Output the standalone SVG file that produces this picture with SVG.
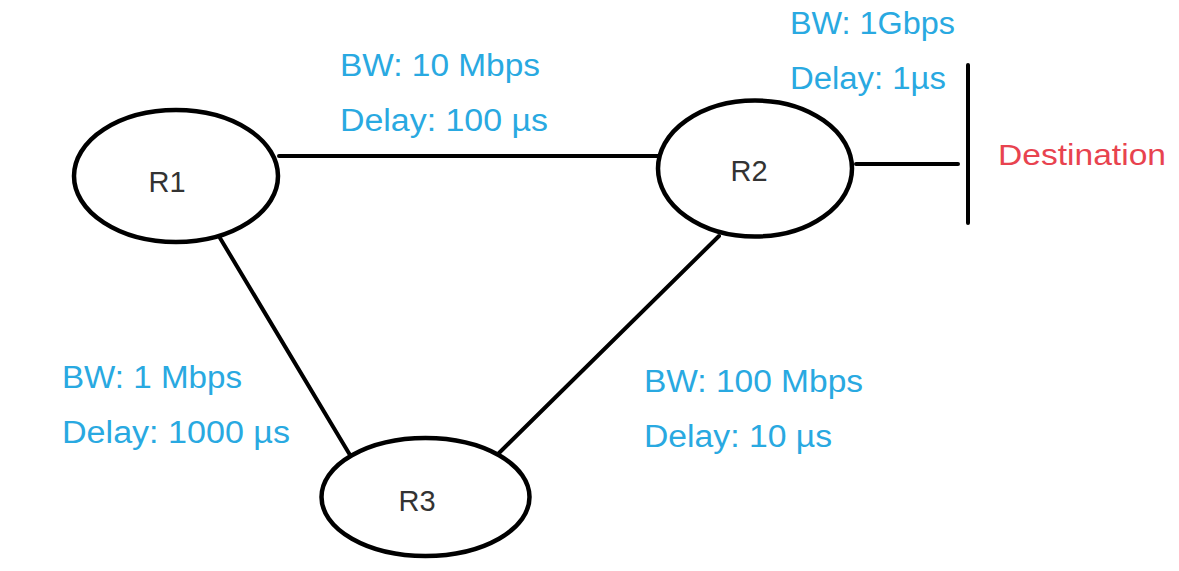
<svg xmlns="http://www.w3.org/2000/svg" width="1179" height="571" viewBox="0 0 1179 571">
<style>
.node{fill:#fff;stroke:#000;stroke-width:4.5}
.lbl{font-family:"Liberation Sans",Arial,sans-serif;font-size:29px;fill:#333;text-anchor:middle}
.info{font-family:"Liberation Sans",Arial,sans-serif;font-size:31px;fill:#29a9e1}
.dest{font-family:"Liberation Sans",Arial,sans-serif;font-size:30px;fill:#e8434f}
.link{stroke:#000;stroke-width:4;stroke-linecap:round;fill:none}
</style>
<rect width="1179" height="571" fill="#fff"/>
<g id="connectors">
<line class="link" x1="279" y1="156" x2="658" y2="156"/>
<line class="link" x1="220" y1="238" x2="350" y2="455"/>
<line class="link" x1="719" y1="236" x2="497" y2="455"/>
<line class="link" x1="856" y1="164" x2="958" y2="164"/>
<line class="link" x1="968" y1="65" x2="968" y2="223"/>
</g>
<g id="R1"><ellipse class="node" cx="176" cy="176" rx="102" ry="66"/><text class="lbl" x="167" y="192">R1</text></g>
<g id="R2"><ellipse class="node" cx="755" cy="168.5" rx="97" ry="68"/><text class="lbl" x="749" y="181">R2</text></g>
<g id="R3"><ellipse class="node" cx="425.5" cy="497" rx="104" ry="59"/><text class="lbl" x="417" y="511">R3</text></g>
<g id="destination"><text class="dest" x="998" y="165" textLength="168" lengthAdjust="spacingAndGlyphs">Destination</text></g>
<g id="labels">
<text class="info" x="340" y="76" textLength="200" lengthAdjust="spacingAndGlyphs">BW: 10 Mbps</text>
<text class="info" x="340" y="131" textLength="208" lengthAdjust="spacingAndGlyphs">Delay: 100 µs</text>
<text class="info" x="790" y="34" textLength="165" lengthAdjust="spacingAndGlyphs">BW: 1Gbps</text>
<text class="info" x="790" y="89" textLength="156" lengthAdjust="spacingAndGlyphs">Delay: 1µs</text>
<text class="info" x="62" y="388" textLength="180" lengthAdjust="spacingAndGlyphs">BW: 1 Mbps</text>
<text class="info" x="62" y="443" textLength="228" lengthAdjust="spacingAndGlyphs">Delay: 1000 µs</text>
<text class="info" x="644" y="392" textLength="219" lengthAdjust="spacingAndGlyphs">BW: 100 Mbps</text>
<text class="info" x="644" y="447" textLength="188" lengthAdjust="spacingAndGlyphs">Delay: 10 µs</text>
</g>
</svg>
